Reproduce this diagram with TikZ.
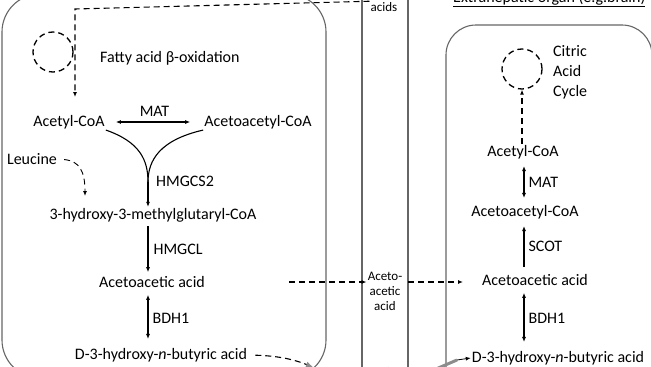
\documentclass[tikz,border=0pt]{standalone}
\usepackage{fontspec}
\setmainfont{Carlito}
\usetikzlibrary{arrows.meta}

\tikzset{
  organ/.style={draw=black!60,line width=1.1pt,rounded corners=38pt},
  band/.style={draw=black!60,line width=1.1pt},
  metab/.style={inner sep=1pt,font=\fontsize{16}{19}\selectfont},
  enzyme/.style={inner sep=1pt,anchor=west,font=\fontsize{16}{19}\selectfont},
  small/.style={inner sep=1pt,align=center,font=\fontsize{13}{15}\selectfont},
  flow/.style={line width=1.1pt,-{Latex[length=5pt,width=4pt]}},
  both/.style={line width=1.1pt,{Latex[length=5pt,width=4pt]}-{Latex[length=5pt,width=4pt]}},
  transport/.style={line width=1.1pt,dash pattern=on 6pt off 4pt,-{Latex[length=5pt,width=4pt]}},
  cyclering/.style={draw,circle,line width=1.3pt,dash pattern=on 6pt off 4pt,minimum size=40pt,inner sep=0pt}
}

\begin{document}
\begin{tikzpicture}[x=1pt,y=-1pt]
	\useasboundingbox (0,0) rectangle (651,367);
	% organs and blood
	\draw[organ] (2,-6) rectangle (326,378);
	\draw[organ,rounded corners=30pt] (446,25) rectangle (652,400);
	\draw[band] (362,-5) -- (362,372);
	\draw[band] (408,-5) -- (408,372);
	\node[metab,anchor=base west] (organR) at (452,2.5) {\underline{Extrahepatic organ (e.g.brain)}};
	% blood labels
	\node[small] (faB) at (384,7) {acids};
	\node[small] (aaB) at (385,291) {Aceto-\\acetic\\acid};
	\node[small] (bhbB) at (384,373) {D-3-hy-};
	% liver
	\coordinate (colL) at (148,0);
	\node[cyclering] (betaL) at (53,52) {};
	\node[metab,anchor=west] (fatox) at (99,58) {Fatty acid β-oxidation};
	\node[metab] (acoaL) at (69,122) {Acetyl-CoA};
	\node[metab] (aacoaL) at (258,122) {Acetoacetyl-CoA};
	\node[metab] (leu) at (32,159) {Leucine};
	\node[metab] (hmg) at (153,215) {3-hydroxy-3-methylglutaryl-CoA};
	\node[metab] (aaL) at (152,282) {Acetoacetic acid};
	\node[metab] (bhbL) at (161,355) {D-3-hydroxy-\textit{n}-butyric acid};
	\coordinate (mergeL) at (148,182);
	\draw[transport] (faB.north west) -- (75,9) -- (75,97);
	\draw[both,shorten <=10pt,shorten >=13pt] (acoaL.east) -- (aacoaL.west)
		node[midway,above=4pt,metab] (matL) {MAT};
	\draw[line width=1.1pt] (acoaL.south east) .. controls (140,142) and (148,160) .. (mergeL);
	\draw[line width=1.1pt] (aacoaL.south west) .. controls (160,140) and (148,160) .. (mergeL);
	\draw[flow] (mergeL) -- (hmg.north -| colL);
	\node[enzyme] (hmgcs) at (155,181) {HMGCS2};
	\draw[transport,line width=0.9pt,shorten <=6pt] (leu.east) .. controls (80,161) and (85,172) .. (85,196);
	\draw[flow,shorten <=3pt,shorten >=3pt] (hmg.south -| colL) -- (aaL.north -| colL)
		node[midway,enzyme,xshift=4pt] (hmgcl) {HMGCL};
	\draw[both,shorten <=6pt,shorten >=8pt] (aaL.south -| colL) -- (bhbL.north -| colL)
		node[midway,enzyme,xshift=3pt] (bdhL) {BDH1};
	\draw[transport] (289,282) -- (aaB.west |- aaL);
	\draw[line width=1.1pt,dash pattern=on 6pt off 4pt,shorten <=7pt,-{Latex[length=7pt,width=6pt,color=black!45]}]
		(bhbL.east) .. controls (285,356) and (300,362) .. (313,367);
	% extrahepatic organ
	\coordinate (colR) at (524,0);
	\node[cyclering] (tcaR) at (522,69) {};
	\node[metab,anchor=west,align=left,font=\fontsize{16}{20}\selectfont] (cac) at (552,72) {Citric\\Acid\\Cycle};
	\node[metab] (acoaR) at (523,152) {Acetyl-CoA};
	\node[metab] (aacoaR) at (525,212) {Acetoacetyl-CoA};
	\node[metab] (aaR) at (535,280) {Acetoacetic acid};
	\node[metab] (bhbR) at (558,358) {D-3-hydroxy-\textit{n}-butyric acid};
	\draw[transport] (acoaR.north -| tcaR) -- (tcaR.south);
	\draw[both,shorten <=6pt,shorten >=6pt] (acoaR.south -| colR) -- (aacoaR.north -| colR)
		node[midway,enzyme,xshift=3pt] (matR) {MAT};
	\draw[flow,shorten <=6pt,shorten >=6pt] (aaR.north -| colR) -- (aacoaR.south -| colR)
		node[midway,enzyme,xshift=3pt] (scot) {SCOT};
	\draw[both,shorten <=6pt,shorten >=8pt] (aaR.south -| colR) -- (bhbR.north -| colR)
		node[midway,enzyme,xshift=3pt] (bdhR) {BDH1};
	\draw[transport] (408,282) -- (463,282);
	\draw[black!45,line width=3pt] (436,369) -- (457,360);
	\draw[flow,line width=0.8pt] (457,360) -- (bhbR.west);
\end{tikzpicture}
\end{document}
